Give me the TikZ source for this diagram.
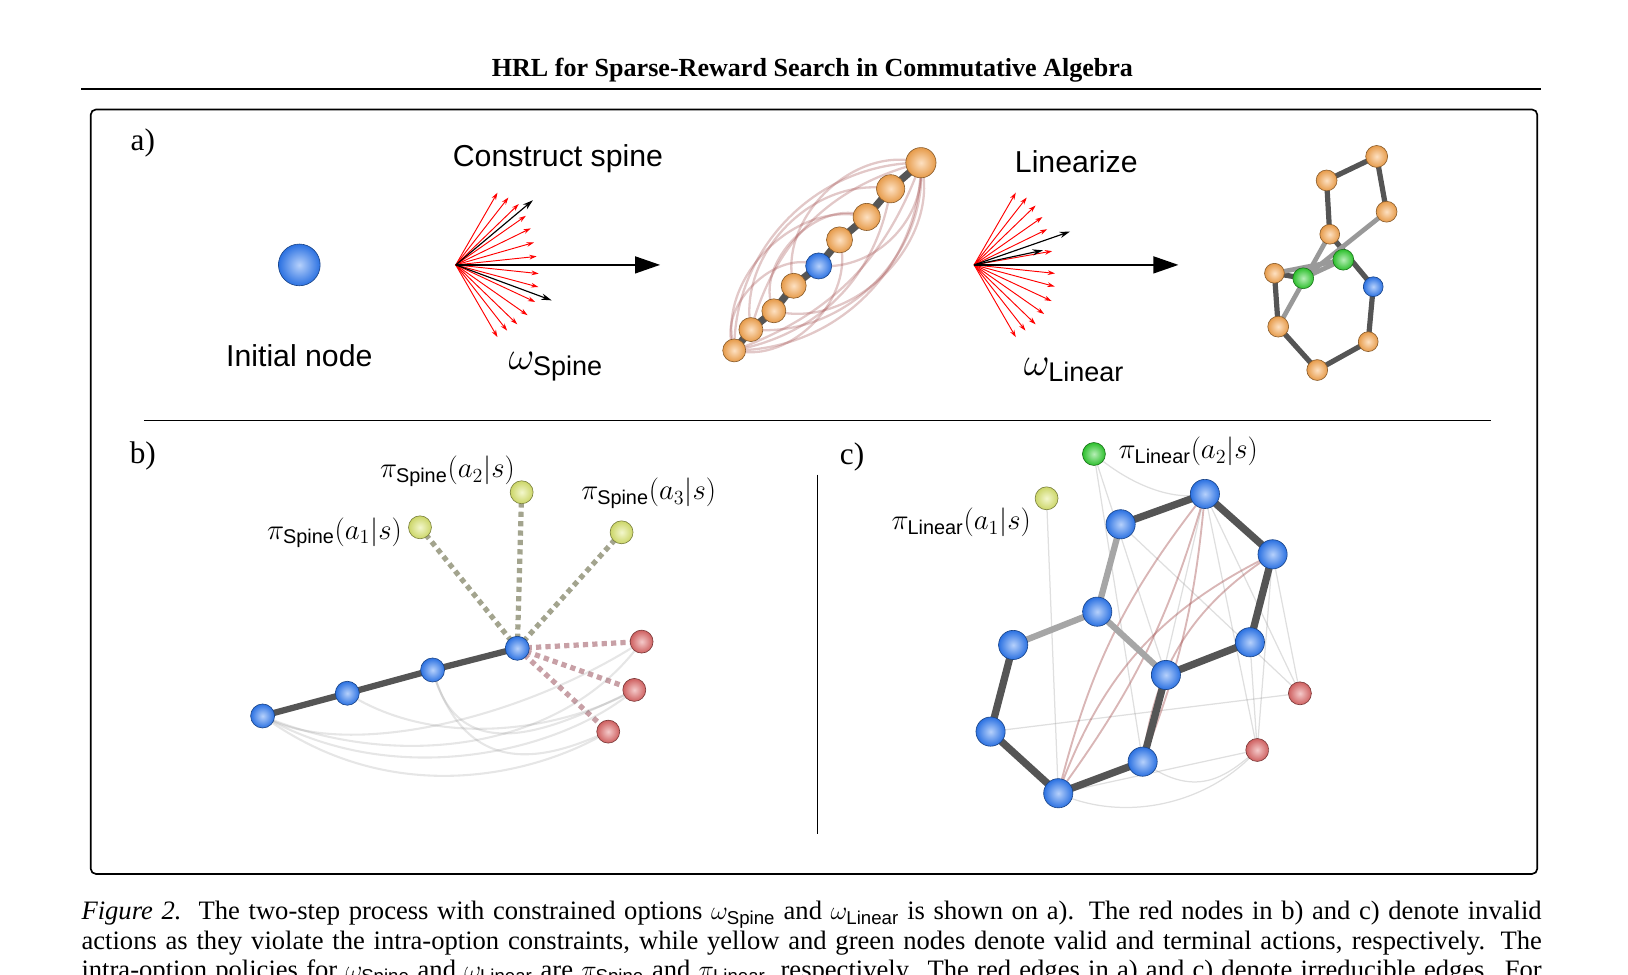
\documentclass[tikz,border=0pt]{standalone}
\usepackage{fontspec}
\setmainfont{Liberation Serif}
\setsansfont{Liberation Sans}
\usetikzlibrary{arrows.meta,calc}
\pgfdeclarelayer{background}
\pgfsetlayers{background,main}
\definecolor{mblue}{HTML}{2F7BF5}
\definecolor{morange}{HTML}{FAA850}
\definecolor{myellow}{HTML}{DDE870}
\definecolor{mred}{HTML}{E06868}
\definecolor{mgreen}{HTML}{30D030}
\definecolor{bond}{HTML}{555555}
\definecolor{rbond}{HTML}{A04848}
\definecolor{ydash}{HTML}{A3A48E}
\definecolor{rdash}{HTML}{C8A0A6}
\tikzset{
  ball/.style n args={2}{circle,inner sep=0pt,minimum size=#1,shading=radial,inner color=#2!35!white,outer color=#2!92!black,draw=#2!55!black,line width=0.6pt},
  bl/.style={ball={#1}{mblue}},
  or/.style={ball={#1}{morange}},
  ye/.style={ball={#1}{myellow}},
  re/.style={ball={#1}{mred}},
  gr/.style={ball={#1}{mgreen}},
  faint/.style={line width=2pt,draw=gray,opacity=0.2},
  redc/.style={line width=2.2pt,draw=rbond,opacity=0.3},
  redl/.style={line width=1.8pt,draw=rbond,opacity=0.4},
  thinl/.style={line width=1.2pt,draw=gray,opacity=0.25},
  fanr/.style={draw=red,line width=0.9pt,-{Stealth[length=7pt,width=4.5pt]}},
  fanb/.style={draw=black,line width=1.1pt,-{Stealth[length=10pt,width=6pt]}},
  big/.style={draw=black,line width=2.2pt,-{Triangle[length=24pt,width=16pt]}},
  sans/.style={font=\fontsize{29}{32}\sffamily},
  lab/.style={font=\fontsize{17}{20}\selectfont,scale=1.6,transform shape},
  om/.style={font=\fontsize{20}{24}\selectfont,scale=1.85,transform shape},
  plab/.style={font=\fontsize{30}{32}\selectfont},
  dashy/.style={line width=5pt,dash pattern=on 5pt off 4pt},
}
\begin{document}
\begin{tikzpicture}[x=1pt,y=-1pt]
\useasboundingbox (0,0) rectangle (1561,934);
% header
\node[font=\fontsize{25}{28}\bfseries] (title) at (779,67) {HRL for Sparse-Reward Search in Commutative Algebra};
\draw[line width=2pt] (78,85) -- (1478,85);
\draw[line width=1.6pt,rounded corners=5pt] (87,105) rectangle (1474,838);
\node[plab] (la) at (137,137) {a)};
\node[plab] (lb) at (137,437) {b)};
\node[plab] (lc) at (817,438) {c)};
\draw[line width=1.3pt] (138,403) -- (1430,403);
\draw[line width=1.3pt] (784,455) -- (784,800);

% panel a
\node[bl=40pt] (init) at (287,254) {};
\node[sans] (tinit) at (287,341) {Initial node};
\node[sans] (tcs) at (535,152) {Construct spine};
\node[sans] (tlin) at (1032,155) {Linearize};
\node[om] (ws) at (533,352) {$\omega_{\mathsf{Spine}}$};
\node[om] (wl) at (1030,355) {$\omega_{\mathsf{Linear}}$};

\coordinate (f1) at (437,254);
\coordinate (f1e) at (633,254);
\foreach \a/\l [count=\i] in {-60/80,-52/82,-44/84,-35/82,-26/80,-16/78,-6/78,6/80,15/82,25/84,35/84,44/82,52/80,60/80}{
  \coordinate (f1r\i) at ($(f1)+(\a:\l)$);
  \draw[fanr] (f1) -- (f1r\i);
}
\coordinate (f1b1) at (511,192);
\coordinate (f1b2) at (529,288);
\draw[fanb] (f1) -- (f1b1);
\draw[fanb] (f1) -- (f1b2);
\draw[big] (f1) -- (f1e);

\coordinate (f2) at (934,254);
\coordinate (f2e) at (1130,254);
\foreach \a/\l [count=\i] in {-60/80,-52/82,-44/82,-35/80,-26/78,-10/76,6/78,15/80,25/82,35/82,44/82,52/80,60/80}{
  \coordinate (f2r\i) at ($(f2)+(\a:\l)$);
  \draw[fanr] (f2) -- (f2r\i);
}
\coordinate (f2b1) at (1026,222);
\coordinate (f2b2) at (1000,240);
\draw[fanb] (f2) -- (f2b1);
\draw[fanb] (f2) -- (f2b2);
\draw[big] (f2) -- (f2e);

% spine chain
\node[or=22pt] (s1) at (704,336) {};
\node[or=23pt] (s2) at (720,316) {};
\node[or=23pt] (s3) at (742,298) {};
\node[or=24pt] (s4) at (761,274) {};
\node[bl=25pt] (s5) at (785,255) {};
\node[or=25pt] (s6) at (805,230) {};
\node[or=26pt] (s7) at (831,208) {};
\node[or=27pt] (s8) at (854,181) {};
\node[or=29pt] (s9) at (883,156) {};
\begin{pgfonlayer}{background}
\foreach \a/\b in {s1/s2,s2/s3,s3/s4,s4/s5,s5/s6,s6/s7,s7/s8,s8/s9}
  \draw[line width=7pt,draw=bond] (\a.center) -- (\b.center);
\draw[redc] (s1.center) to[bend left=45] (s9.center);
\draw[redc] (s1.center) to[bend right=45] (s9.center);
\draw[redc] (s1.center) to[bend left=60] (s7.center);
\draw[redc] (s2.center) to[bend right=50] (s9.center);
\draw[redc] (s1.center) to[bend left=70] (s5.center);
\draw[redc] (s2.center) to[bend left=55] (s8.center);
\draw[redc] (s3.center) to[bend right=60] (s9.center);
\draw[redc] (s1.center) to[bend right=35] (s8.center);
\draw[redc] (s4.center) to[bend left=60] (s9.center);
\draw[redc] (s1.center) to[bend right=60] (s6.center);
\draw[redc] (s2.center) to[bend left=30] (s9.center);
\draw[redc] (s3.center) to[bend left=70] (s7.center);
\draw[redc] (s5.center) to[bend right=50] (s9.center);
\draw[redc] (s1.center) to[bend right=25] (s9.center);
\end{pgfonlayer}

% molecule
\node[or=21pt] (mA) at (1320,150) {};
\node[or=20pt] (mB) at (1272,173) {};
\node[or=20pt] (mC) at (1329.5,203) {};
\node[or=19pt] (mD) at (1275,224.6) {};
\node[gr=20pt] (mG1) at (1288,249) {};
\node[or=19pt] (mE) at (1222,262) {};
\node[gr=20pt] (mG2) at (1249.6,266.8) {};
\node[bl=19pt] (mBl) at (1316.7,274.9) {};
\node[or=20pt] (mF) at (1225.6,313.2) {};
\node[or=19pt] (mH) at (1311.9,327.6) {};
\node[or=20pt] (mI) at (1263,354.8) {};
\begin{pgfonlayer}{background}
\foreach \a/\b in {mA/mB,mA/mC,mB/mD,mD/mBl,mE/mG2,mE/mF,mF/mI,mI/mH,mH/mBl}
  \draw[line width=5pt,draw=bond] (\a.center) -- (\b.center);
\foreach \a/\b in {mC/mG2,mD/mF,mE/mG1,mG2/mG1}
  \draw[line width=4.5pt,draw=gray!80] (\a.center) -- (\b.center);
\end{pgfonlayer}

% panel b
\node[bl=23pt] (b1) at (251.8,686.5) {};
\node[bl=23pt] (b2) at (333,664.7) {};
\node[bl=23pt] (b3) at (414.8,642.4) {};
\node[bl=23pt] (b4) at (496,621.6) {};
\node[ye=22pt] (y1) at (402.7,505.6) {};
\node[ye=22pt] (y2) at (500.2,472) {};
\node[ye=22pt] (y3) at (596,510.4) {};
\node[re=22pt] (r1) at (615.2,615.2) {};
\node[re=22pt] (r2) at (608.2,661.5) {};
\node[re=22pt] (r3) at (583.2,701.5) {};
\node[lab,anchor=east] (py1) at (391,511) {$\pi_{\mathsf{Spine}}(a_1|s)$};
\node[lab] (py2) at (429,452) {$\pi_{\mathsf{Spine}}(a_2|s)$};
\node[lab] (py3) at (622,473) {$\pi_{\mathsf{Spine}}(a_3|s)$};
\begin{pgfonlayer}{background}
\draw[line width=6pt,draw=bond] (b1.center) -- (b2.center) -- (b3.center) -- (b4.center);
\foreach \y in {y1,y2,y3}
  \draw[dashy,draw=ydash] (b4.center) -- (\y.center);
\foreach \r in {r1,r2,r3}
  \draw[dashy,draw=rdash] (b4.center) -- (\r.center);
\draw[faint] (b1.center) .. controls (380,740) and (540,720) .. (r1.center);
\draw[faint] (b1.center) .. controls (380,760) and (540,720) .. (r2.center);
\draw[faint] (b1.center) .. controls (380,780) and (520,740) .. (r3.center);
\draw[faint] (b1.center) .. controls (330,730) and (500,690) .. (r1.center);
\draw[faint] (b2.center) .. controls (420,720) and (540,700) .. (r2.center);
\draw[faint] (b3.center) .. controls (440,740) and (530,700) .. (r2.center);
\draw[faint] (b3.center) .. controls (450,760) and (540,720) .. (r3.center);
\end{pgfonlayer}

% panel c
\node[gr=22pt] (cg) at (1048.9,435.3) {};
\node[ye=22pt] (cy) at (1003.5,477.8) {};
\node[bl=28pt] (n1) at (1155.3,473.6) {};
\node[bl=28pt] (n2) at (1074.5,502.7) {};
\node[bl=28pt] (n3) at (1220.2,531.5) {};
\node[bl=28pt] (n4) at (1052.1,586.5) {};
\node[bl=28pt] (n5) at (971.5,618.4) {};
\node[bl=28pt] (n6) at (1198.5,615.8) {};
\node[bl=28pt] (n7) at (1117.9,647.2) {};
\node[bl=28pt] (n8) at (949.8,701.5) {};
\node[bl=28pt] (n9) at (1095.6,730.3) {};
\node[bl=28pt] (n10) at (1014.7,760.6) {};
\node[re=22pt] (ra) at (1246.4,664.8) {};
\node[re=22pt] (rb) at (1205.5,719.1) {};
\node[lab,anchor=west] (pg) at (1067,433) {$\pi_{\mathsf{Linear}}(a_2|s)$};
\node[lab,anchor=east] (pyc) at (994,501) {$\pi_{\mathsf{Linear}}(a_1|s)$};
\begin{pgfonlayer}{background}
\foreach \a/\b in {cy/n10,cg/n9,cg/n7,n2/ra,n1/rb,n1/n9,n3/rb,n6/rb,n8/ra,n10/rb,n3/ra,n1/ra}
  \draw[thinl] (\a.center) -- (\b.center);
\draw[thinl] (cg.center) .. controls (1090,470) and (1130,480) .. (n1.center);
\draw[thinl] (n9.center) .. controls (1150,770) and (1180,740) .. (rb.center);
\draw[thinl] (n10.center) .. controls (1080,790) and (1160,770) .. (rb.center);
\draw[redl] (n10.center) to[bend left=12] (n1.center);
\draw[redl] (n10.center) to[bend right=10] (n1.center);
\draw[redl] (n10.center) to[bend left=22] (n3.center);
\draw[redl] (n9.center) to[bend left=25] (n3.center);
\draw[redl] (n9.center) to[bend right=8] (n1.center);
\foreach \a/\b in {n1/n2,n1/n3,n3/n6,n6/n7,n7/n9,n9/n10,n10/n8,n8/n5}
  \draw[line width=7pt,draw=bond] (\a.center) -- (\b.center);
\foreach \a/\b in {n2/n4,n4/n5,n4/n7}
  \draw[line width=6pt,draw=gray!70] (\a.center) -- (\b.center);
\end{pgfonlayer}

% caption
\node[anchor=base west,inner sep=0,font=\fontsize{25.5}{28}\selectfont] (cap1) at (78,882) {\makebox[1400pt][s]{\textit{Figure 2.}\ \ The two-step process with constrained options $\omega_{\mathsf{Spine}}$ and $\omega_{\mathsf{Linear}}$ is shown on a). The red nodes in b) and c) denote invalid}};
\node[anchor=base west,inner sep=0,font=\fontsize{25.5}{28}\selectfont] (cap2) at (78,910) {\makebox[1400pt][s]{actions as they violate the intra-option constraints, while yellow and green nodes denote valid and terminal actions, respectively. The}};
\node[anchor=base west,inner sep=0,font=\fontsize{25.5}{28}\selectfont] (cap3) at (78,938) {\makebox[1400pt][s]{intra-option policies for $\omega_{\mathsf{Spine}}$ and $\omega_{\mathsf{Linear}}$ are $\pi_{\mathsf{Spine}}$ and $\pi_{\mathsf{Linear}}$, respectively. The red edges in a) and c) denote irreducible edges. For}};
\end{tikzpicture}
\end{document}
